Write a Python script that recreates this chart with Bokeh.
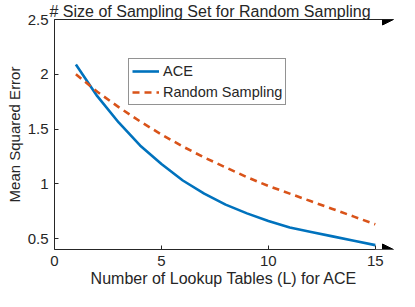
from bokeh.plotting import figure
from bokeh.models import (Range1d, FixedTicker, PrintfTickFormatter, LinearAxis,
                          Arrow, NormalHead, Legend, LegendItem, Title)
from bokeh.embed import file_html
from bokeh.resources import INLINE

L = [1, 2, 3, 4, 5, 6, 7, 8, 9, 10, 11, 12, 13, 14, 15]
ace = [2.09, 1.80, 1.56, 1.35, 1.18, 1.03, 0.91, 0.81, 0.73, 0.66, 0.60, 0.56, 0.52, 0.48, 0.44]
random_sampling = [2.00, 1.84, 1.70, 1.57, 1.45, 1.34, 1.24, 1.15, 1.06, 0.98, 0.91, 0.84, 0.77, 0.70, 0.63]
x_ticks = [0, 5, 10, 15]
y_ticks = [0.5, 1, 1.5, 2, 2.5]
x_label = "Number of Lookup Tables (L) for ACE"
y_label = "Mean Squared Error"
top_label = "# Size of Sampling Set for Random Sampling"

FONT = "Liberation Sans"
TXT = "#262626"

p = figure(width=399, height=291, output_backend="svg", toolbar_location=None,
           x_range=Range1d(0, 15.85), y_range=Range1d(0.4, 2.5),
           x_axis_location=None, y_axis_location=None,
           min_border_left=54, min_border_right=6, min_border_top=18, min_border_bottom=42)
p.grid.visible = False
p.outline_line_color = None
p.background_fill_color = "white"

def style(ax):
    ax.axis_line_color = TXT
    ax.axis_line_width = 1
    ax.major_tick_line_color = TXT
    ax.major_tick_in = 4
    ax.major_tick_out = 0
    ax.minor_tick_line_color = None
    ax.major_label_text_font = FONT
    ax.major_label_text_font_size = "15px"
    ax.major_label_text_color = TXT
    ax.axis_label_text_font = FONT
    ax.axis_label_text_font_style = "normal"
    ax.axis_label_text_color = TXT

xa = LinearAxis(ticker=FixedTicker(ticks=x_ticks), formatter=PrintfTickFormatter(format="%g"),
                axis_label=x_label)
style(xa)
xa.major_label_standoff = 6
xa.axis_label_standoff = 1
xa.axis_label_text_font_size = "16px"
p.add_layout(xa, "below")

ya = LinearAxis(ticker=FixedTicker(ticks=y_ticks), formatter=PrintfTickFormatter(format="%g"),
                axis_label=y_label)
style(ya)
ya.major_label_standoff = 6
ya.axis_label_standoff = 2
ya.axis_label_text_font_size = "15px"
p.add_layout(ya, "left")

ta = LinearAxis(ticker=FixedTicker(ticks=[]))
style(ta)
ta.major_tick_in = 0
ta.major_label_standoff = 0
ta.major_label_text_font_size = "0px"
p.add_layout(ta, "above")

p.title = Title(text=top_label, align="left", offset=-5, standoff=0,
                text_font=FONT, text_font_size="16px", text_font_style="normal",
                text_color=TXT)

p.add_layout(Arrow(end=NormalHead(size=11, fill_color="black", line_color="black"),
                   x_start=15, y_start=0.4, x_end=15.85, y_end=0.4,
                   line_color="#888888", line_width=1))
p.add_layout(Arrow(end=NormalHead(size=11, fill_color="black", line_color="black"),
                   x_start=15, y_start=2.5, x_end=15.85, y_end=2.5,
                   line_color=TXT, line_width=1))

r1 = p.line(L, ace, line_color="#0072BD", line_width=2.6)
r2 = p.line(L, random_sampling, line_color="#D95319", line_width=2.6, line_dash="7 5")

legend = Legend(items=[LegendItem(label="ACE", renderers=[r1]),
                       LegendItem(label="Random Sampling", renderers=[r2])],
                location=(74, 144))
legend.label_text_font = FONT
legend.label_text_font_size = "14.5px"
legend.label_text_color = TXT
legend.border_line_color = TXT
legend.border_line_width = 1
legend.padding = 3
legend.spacing = 3
legend.margin = 0
legend.glyph_width = 27
legend.glyph_height = 18
legend.label_height = 18
legend.label_standoff = 4
legend.background_fill_alpha = 1
p.add_layout(legend, "center")

open("out.html", "w").write(file_html(p, INLINE))
